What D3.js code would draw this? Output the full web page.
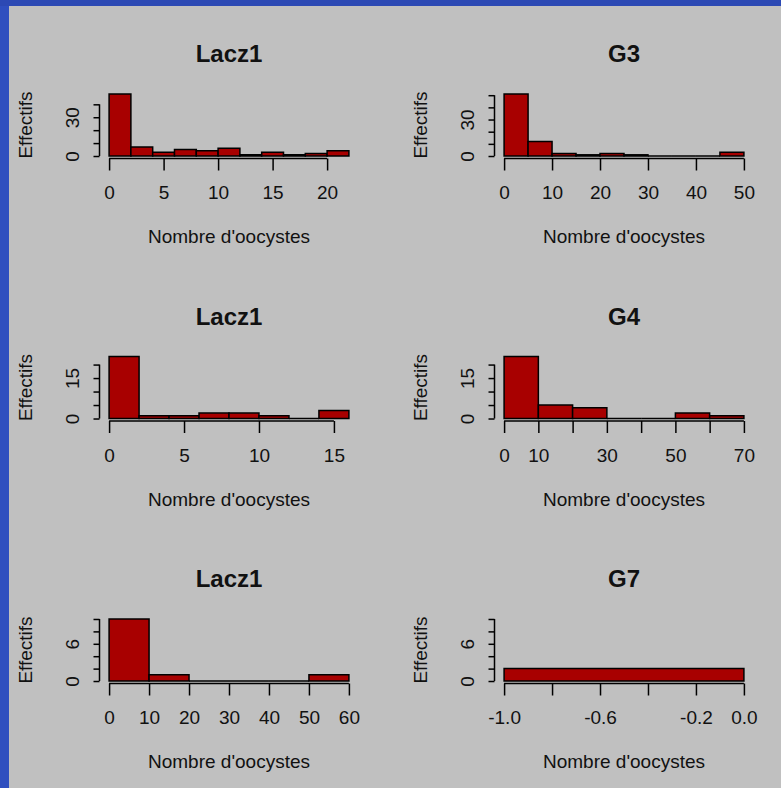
<!DOCTYPE html>
<html>
<head>
<meta charset="utf-8">
<script src="https://cdn.jsdelivr.net/npm/d3@7"></script>
<style>
  html, body { margin: 0; padding: 0; background: #c0c0c0; }
  svg { display: block; }
  text { font-family: "Liberation Sans", Arial, sans-serif; fill: #111; }
</style>
</head>
<body>
<div id="chart"></div>
<script>
// values (6 histograms, 3 rows x 2 cols)
var titles = ["Lacz1", "G3", "Lacz1", "G4", "Lacz1", "G7"];
var xTitle = "Nombre d'oocystes";
var yTitle = "Effectifs";

// bin edges and counts for each panel
var breaks1 = [0, 2, 4, 6, 8, 10, 12, 14, 16, 18, 20, 22];
var counts1 = [48, 7, 3, 5, 4, 6, 1, 3, 1, 2, 4];

var breaks2 = [0, 5, 10, 15, 20, 25, 30, 35, 40, 45, 50];
var counts2 = [51, 12, 2, 1, 2, 1, 0, 0, 0, 3];

var breaks3 = [0, 2, 4, 6, 8, 10, 12, 14, 16];
var counts3 = [23, 1, 1, 2, 2, 1, 0, 3];

var breaks4 = [0, 10, 20, 30, 40, 50, 60, 70];
var counts4 = [23, 5, 4, 0, 0, 2, 1];

var breaks5 = [0, 10, 20, 30, 40, 50, 60];
var counts5 = [10, 1, 0, 0, 0, 1];

var breaks6 = [-1, 0];
var counts6 = [2];

// upper y limit of each panel
var yLimits = [48, 51, 23, 23, 10, 10];

// tick values and the ones that carry a label
var xTicks = [
    [0, 5, 10, 15, 20],
    [0, 10, 20, 30, 40, 50],
    [0, 5, 10, 15],
    [0, 10, 20, 30, 40, 50, 60, 70],
    [0, 10, 20, 30, 40, 50, 60],
    [-1, -0.8, -0.6, -0.4, -0.2, 0]
];
var xLabels = [
    [0, 5, 10, 15, 20],
    [0, 10, 20, 30, 40, 50],
    [0, 5, 10, 15],
    [0, 10, 30, 50, 70],
    [0, 10, 20, 30, 40, 50, 60],
    [-1, -0.6, -0.2, 0]
];
var yTicks = [
    [0, 10, 20, 30, 40],
    [0, 10, 20, 30, 40, 50],
    [0, 5, 10, 15, 20],
    [0, 5, 10, 15, 20],
    [0, 2, 4, 6, 8, 10],
    [0, 2, 4, 6, 8, 10]
];
var yLabels = [[0, 30], [0, 30], [0, 15], [0, 15], [0, 6], [0, 6]];

var allBreaks = [breaks1, breaks2, breaks3, breaks4, breaks5, breaks6];
var allCounts = [counts1, counts2, counts3, counts4, counts5, counts6];

//---------------------------------------------------------------------------//

var svgWidth = 781;
var svgHeight = 788;

// plot regions
var colLeft = [99.5, 494.5];
var rowTop = [91.5, 354, 616.5];
var plotW = 259;
var plotH = 67;

var barFill = "#a80000";

var svg = d3.select("#chart")
    .append("svg")
    .attr("width", svgWidth)
    .attr("height", svgHeight);

svg.append("rect")
    .attr("width", svgWidth)
    .attr("height", svgHeight)
    .attr("fill", "#c0c0c0");

// blue frame at left and top
svg.append("rect").attr("x", 0).attr("y", 0).attr("width", 9).attr("height", svgHeight).attr("fill", "#2f4fbf");
svg.append("rect").attr("x", 0).attr("y", 0).attr("width", svgWidth).attr("height", 6).attr("fill", "#2c49b4");

titles.forEach(function(title, i) {
    var left = colLeft[i % 2];
    var top = rowTop[Math.floor(i / 2)];
    var breaks = allBreaks[i];
    var counts = allCounts[i];

    // bins from breaks + counts
    var bins = counts.map(function(c, j) {
        return { x0: breaks[j], x1: breaks[j + 1], n: c };
    });

    // R style 4% padding on both scales
    var bMin = breaks[0], bMax = breaks[breaks.length - 1];
    var padX = (bMax - bMin) * 0.04;
    var xScale = d3.scaleLinear()
        .domain([bMin - padX, bMax + padX])
        .range([0, plotW]);

    var yMax = yLimits[i];
    var yScale = d3.scaleLinear()
        .domain([-0.04 * yMax, 1.04 * yMax])
        .range([plotH, 0]);

    var g = svg.append("g")
        .attr("transform", `translate(${left}, ${top})`);

    // bars as closed paths so that empty bins still show as a flat line
    g.selectAll("path.bar")
        .data(bins)
        .enter()
        .append("path")
        .attr("class", "bar")
        .attr("d", function(d) {
            var p = d3.path();
            p.moveTo(xScale(d.x0), yScale(0));
            p.lineTo(xScale(d.x0), yScale(d.n));
            p.lineTo(xScale(d.x1), yScale(d.n));
            p.lineTo(xScale(d.x1), yScale(0));
            p.closePath();
            return p.toString();
        })
        .attr("fill", barFill)
        .attr("stroke", "#000")
        .attr("stroke-width", 1.5);

    // x axis
    var fmtX = i === 5 ? (v => v.toFixed(1)) : (v => String(v));
    var xAxis = d3.axisBottom(xScale)
        .tickValues(xTicks[i])
        .tickSize(12)
        .tickSizeOuter(0)
        .tickFormat(v => xLabels[i].some(l => Math.abs(l - v) < 1e-9) ? fmtX(v) : "");

    var xg = g.append("g")
        .attr("transform", `translate(0, ${plotH})`)
        .call(xAxis);
    xg.select(".domain").remove();
    xg.selectAll("line").attr("stroke", "#000").attr("stroke-width", 1.5);
    xg.selectAll("text")
        .attr("y", 40.5)
        .attr("dy", null)
        .attr("font-size", 19)
        .attr("font-family", null);
    xg.append("line")
        .attr("x1", xScale(xTicks[i][0]))
        .attr("x2", xScale(xTicks[i][xTicks[i].length - 1]))
        .attr("stroke", "#000")
        .attr("stroke-width", 1.5);

    // y axis
    var yAxis = d3.axisLeft(yScale)
        .tickValues(yTicks[i])
        .tickSize(6)
        .tickSizeOuter(0)
        .tickFormat(v => yLabels[i].indexOf(v) >= 0 ? String(v) : "");

    var yg = g.append("g").call(yAxis);
    yg.select(".domain").remove();
    yg.selectAll("line").attr("stroke", "#000").attr("stroke-width", 1.5);
    yg.selectAll("text")
        .attr("x", null)
        .attr("dy", null)
        .attr("text-anchor", "middle")
        .attr("dominant-baseline", "central")
        .attr("transform", "translate(-27, 0) rotate(-90)")
        .attr("font-size", 19)
        .attr("font-family", null);
    yg.append("line")
        .attr("y1", yScale(yTicks[i][0]))
        .attr("y2", yScale(yTicks[i][yTicks[i].length - 1]))
        .attr("stroke", "#000")
        .attr("stroke-width", 1.5);

    // title
    g.append("text")
        .attr("x", plotW / 2)
        .attr("y", -29.5)
        .attr("text-anchor", "middle")
        .attr("font-size", 24)
        .attr("font-weight", "bold")
        .text(title);

    // axis titles
    g.append("text")
        .attr("x", plotW / 2)
        .attr("y", plotH + 84.5)
        .attr("text-anchor", "middle")
        .attr("font-size", 19)
        .text(xTitle);

    g.append("text")
        .attr("transform", `translate(-74, ${plotH / 2}) rotate(-90)`)
        .attr("text-anchor", "middle")
        .attr("dominant-baseline", "central")
        .attr("font-size", 19)
        .text(yTitle);
});
</script>
</body>
</html>
